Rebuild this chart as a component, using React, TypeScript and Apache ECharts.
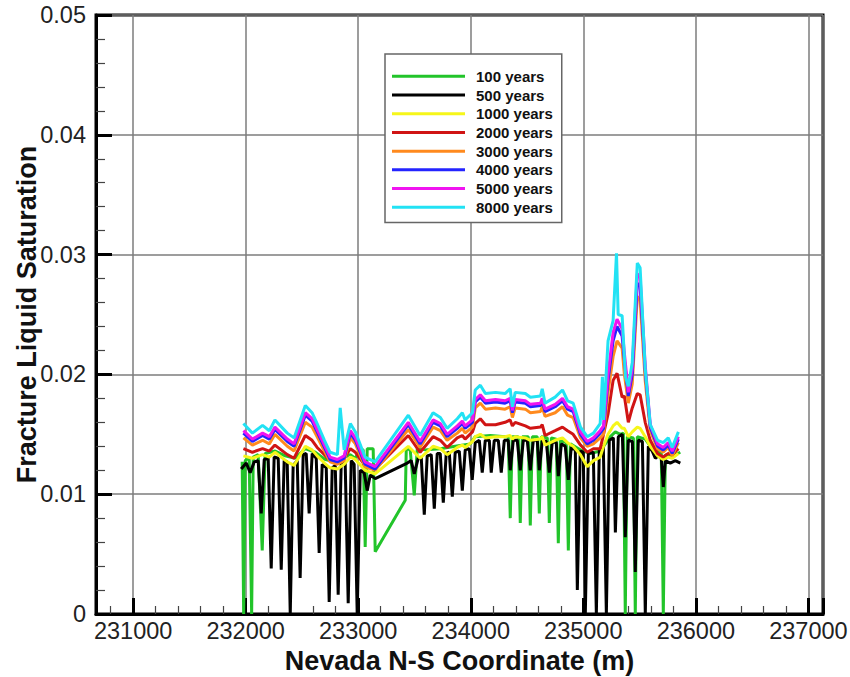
import React, { useEffect, useRef } from 'react';
import * as echarts from 'echarts';

const seriesNames = ['100 years', '500 years', '1000 years', '2000 years', '3000 years', '4000 years', '5000 years', '8000 years'];
const seriesColors = ['#22c42a', '#000000', '#f6f61a', '#d01414', '#ff8a1e', '#2424ff', '#f014f0', '#22e2f4'];

const xLabelValues = [231000, 232000, 233000, 234000, 235000, 236000, 237000];

// 100 years
const xGreen = [231969, 231982, 231996, 232031, 232053, 232067, 232111, 232147, 232173, 232262, 232351, 232440, 232529, 232618, 232707, 232796, 232884, 232929, 232973, 233018, 233044, 233062, 233080, 233116, 233133, 233151, 233418, 233427, 233462, 233498, 233525, 233596, 233729, 233862, 233996, 234040, 234173, 234307, 234333, 234351, 234369, 234422, 234440, 234458, 234511, 234529, 234547, 234591, 234609, 234627, 234680, 234698, 234716, 234760, 234778, 234796, 234849, 234867, 234885, 234973, 235062, 235151, 235240, 235285, 235329, 235356, 235373, 235391, 235445, 235462, 235480, 235551, 235596, 235658, 235693, 235711, 235729, 235773, 235818, 235862];
const yGreen = [0.0127, 0, 0.0128, 0.0131, 0, 0.0131, 0.0133, 0.0053, 0.0134, 0.0136, 0.0132, 0.0130, 0.0138, 0.0135, 0.0129, 0.0127, 0.0131, 0.0133, 0.0130, 0.0137, 0.0137, 0.0056, 0.0138, 0.0138, 0.0138, 0.0052, 0.0095, 0.0138, 0.0137, 0.0099, 0.0138, 0.0137, 0.0138, 0.0140, 0.0142, 0.0148, 0.0149, 0.0148, 0.0148, 0.0080, 0.0148, 0.0148, 0.0076, 0.0148, 0.0148, 0.0074, 0.0148, 0.0148, 0.0084, 0.0148, 0.0147, 0.0076, 0.0147, 0.0146, 0.0059, 0.0145, 0.0143, 0.0053, 0.0142, 0.0137, 0.0134, 0.0136, 0.0148, 0.0152, 0.0150, 0.0151, 0, 0.0148, 0.0147, 0, 0.0148, 0.0146, 0.0140, 0.0136, 0.0134, 0, 0.0133, 0.0131, 0.0133, 0.0135];

// 500 years
const xBlack = [231960, 232005, 232040, 232076, 232111, 232138, 232165, 232200, 232227, 232253, 232289, 232316, 232342, 232369, 232396, 232422, 232458, 232484, 232511, 232538, 232564, 232591, 232627, 232653, 232680, 232716, 232742, 232769, 232796, 232822, 232849, 232884, 232911, 232938, 232964, 232991, 233018, 233053, 233080, 233107, 233151, 233436, 233471, 233498, 233533, 233560, 233587, 233613, 233649, 233676, 233702, 233729, 233756, 233782, 233809, 233836, 233862, 233898, 233925, 233951, 233987, 234013, 234040, 234076, 234102, 234129, 234165, 234182, 234209, 234245, 234271, 234298, 234333, 234351, 234378, 234413, 234440, 234467, 234502, 234529, 234556, 234591, 234609, 234636, 234671, 234698, 234725, 234760, 234778, 234805, 234840, 234867, 234893, 234929, 234947, 234973, 235000, 235018, 235045, 235089, 235116, 235142, 235178, 235205, 235231, 235267, 235285, 235311, 235347, 235373, 235400, 235436, 235462, 235489, 235525, 235551, 235578, 235613, 235640, 235667, 235693, 235711, 235729, 235773, 235818, 235862];
const yBlack = [0.0121, 0.0126, 0.0118, 0.0127, 0.0128, 0.0084, 0.0129, 0.0130, 0.0038, 0.0131, 0.0130, 0.0037, 0.0128, 0.0127, 0, 0.0124, 0.0128, 0.0030, 0.0133, 0.0134, 0.0084, 0.0134, 0.0130, 0.0051, 0.0125, 0.0122, 0.0010, 0.0122, 0.0124, 0.0016, 0.0126, 0.0127, 0.0009, 0.0128, 0.0125, 0, 0.0120, 0.0118, 0.0103, 0.0116, 0.0113, 0.0126, 0.0128, 0.0117, 0.0130, 0.0131, 0.0083, 0.0132, 0.0133, 0.0088, 0.0134, 0.0134, 0.0093, 0.0134, 0.0135, 0.0098, 0.0135, 0.0136, 0.0103, 0.0137, 0.0138, 0.0112, 0.0143, 0.0145, 0.0118, 0.0145, 0.0145, 0.0118, 0.0145, 0.0145, 0.0118, 0.0145, 0.0145, 0.0120, 0.0145, 0.0145, 0.0120, 0.0145, 0.0145, 0.0120, 0.0145, 0.0145, 0.0120, 0.0145, 0.0144, 0.0118, 0.0144, 0.0143, 0.0115, 0.0142, 0.0140, 0.0112, 0.0139, 0.0137, 0.0020, 0.0136, 0.0135, 0, 0.0134, 0.0135, 0, 0.0136, 0.0140, 0, 0.0145, 0.0147, 0.0068, 0.0148, 0.0150, 0.0064, 0.0145, 0.0144, 0.0035, 0.0145, 0.0144, 0, 0.0140, 0.0136, 0.0130, 0.0132, 0.0130, 0.0106, 0.0128, 0.0126, 0.0128, 0.0126];

// shared coordinates for 1000-5000 years
const xGrid = [231980, 232060, 232150, 232210, 232260, 232370, 232430, 232530, 232590, 232635, 232700, 232750, 232815, 232875, 232930, 232975, 233060, 233150, 233445, 233550, 233665, 233730, 233790, 233880, 233925, 233950, 234015, 234040, 234085, 234130, 234220, 234305, 234350, 234370, 234395, 234485, 234530, 234620, 234635, 234660, 234750, 234815, 234860, 234910, 234975, 235035, 235090, 235150, 235180, 235220, 235265, 235300, 235345, 235365, 235400, 235435, 235480, 235505, 235550, 235595, 235660, 235710, 235755, 235790, 235845];
const yYellow = [0.0132, 0.0130, 0.0133, 0.0131, 0.0135, 0.0127, 0.0124, 0.0140, 0.0137, 0.0132, 0.0126, 0.0122, 0.0121, 0.0125, 0.0131, 0.0129, 0.0120, 0.0117, 0.0140, 0.0130, 0.0140, 0.0138, 0.0133, 0.0139, 0.0141, 0.0139, 0.0144, 0.0148, 0.0150, 0.0147, 0.0148, 0.0148, 0.0149, 0.0146, 0.0148, 0.0147, 0.0145, 0.0146, 0.0148, 0.0141, 0.0145, 0.0147, 0.0143, 0.0140, 0.0133, 0.0123, 0.0128, 0.0131, 0.0140, 0.0150, 0.0157, 0.0160, 0.0155, 0.0155, 0.0148, 0.0152, 0.0156, 0.0155, 0.0148, 0.0140, 0.0132, 0.0129, 0.0131, 0.0130, 0.0134];
const yRed = [0.0138, 0.0135, 0.0138, 0.0136, 0.0141, 0.0133, 0.0130, 0.0149, 0.0145, 0.0139, 0.0133, 0.0128, 0.0127, 0.0130, 0.0138, 0.0135, 0.0124, 0.0121, 0.0149, 0.0135, 0.0148, 0.0145, 0.0139, 0.0147, 0.0149, 0.0146, 0.0152, 0.0159, 0.0163, 0.0158, 0.0158, 0.0160, 0.0162, 0.0157, 0.0160, 0.0157, 0.0155, 0.0156, 0.0158, 0.0149, 0.0153, 0.0156, 0.0153, 0.0150, 0.0141, 0.0135, 0.0138, 0.0138, 0.0150, 0.0167, 0.0195, 0.0201, 0.0181, 0.0182, 0.0160, 0.0172, 0.0184, 0.0183, 0.0160, 0.0145, 0.0134, 0.0131, 0.0134, 0.0133, 0.0138];
const yOrange = [0.0147, 0.0141, 0.0145, 0.0142, 0.0150, 0.0140, 0.0136, 0.0160, 0.0156, 0.0148, 0.0136, 0.0127, 0.0125, 0.0128, 0.0147, 0.0142, 0.0123, 0.0120, 0.0154, 0.0139, 0.0156, 0.0153, 0.0145, 0.0151, 0.0155, 0.0151, 0.0156, 0.0172, 0.0176, 0.0171, 0.0172, 0.0171, 0.0173, 0.0164, 0.0172, 0.0171, 0.0168, 0.0169, 0.0173, 0.0165, 0.0168, 0.0173, 0.0166, 0.0164, 0.0147, 0.0140, 0.0142, 0.0147, 0.0150, 0.0185, 0.0215, 0.0228, 0.0222, 0.0200, 0.0176, 0.0192, 0.0265, 0.0262, 0.0195, 0.0153, 0.0138, 0.0135, 0.0139, 0.0132, 0.0143];
const yBlue = [0.0151, 0.0144, 0.0149, 0.0146, 0.0154, 0.0144, 0.0140, 0.0166, 0.0161, 0.0152, 0.0139, 0.0129, 0.0127, 0.0130, 0.0151, 0.0145, 0.0125, 0.0121, 0.0158, 0.0142, 0.0160, 0.0157, 0.0148, 0.0155, 0.0159, 0.0155, 0.0160, 0.0177, 0.0181, 0.0176, 0.0177, 0.0176, 0.0178, 0.0168, 0.0177, 0.0176, 0.0173, 0.0174, 0.0178, 0.0169, 0.0173, 0.0178, 0.0171, 0.0169, 0.0150, 0.0142, 0.0145, 0.0151, 0.0155, 0.0195, 0.0228, 0.0240, 0.0232, 0.0212, 0.0182, 0.0200, 0.0276, 0.0274, 0.0203, 0.0156, 0.0140, 0.0137, 0.0141, 0.0134, 0.0146];
const yMagenta = [0.0153, 0.0146, 0.0151, 0.0148, 0.0156, 0.0146, 0.0142, 0.0168, 0.0163, 0.0154, 0.0141, 0.0131, 0.0129, 0.0132, 0.0153, 0.0147, 0.0127, 0.0123, 0.0160, 0.0144, 0.0162, 0.0159, 0.0150, 0.0157, 0.0161, 0.0157, 0.0162, 0.0179, 0.0183, 0.0178, 0.0179, 0.0178, 0.0180, 0.0170, 0.0179, 0.0178, 0.0175, 0.0176, 0.0180, 0.0171, 0.0175, 0.0180, 0.0173, 0.0171, 0.0152, 0.0144, 0.0147, 0.0153, 0.0157, 0.0200, 0.0235, 0.0246, 0.0238, 0.0218, 0.0185, 0.0205, 0.0284, 0.0281, 0.0208, 0.0158, 0.0142, 0.0139, 0.0143, 0.0136, 0.0148];

// 8000 years
const xCyan = [231980, 232060, 232150, 232210, 232260, 232370, 232430, 232530, 232590, 232635, 232700, 232750, 232815, 232840, 232875, 232930, 232975, 233060, 233150, 233445, 233550, 233665, 233730, 233790, 233880, 233925, 233950, 234015, 234040, 234085, 234130, 234220, 234305, 234350, 234370, 234395, 234485, 234530, 234620, 234635, 234660, 234750, 234815, 234860, 234910, 234975, 235035, 235090, 235150, 235170, 235180, 235220, 235265, 235295, 235310, 235345, 235375, 235400, 235435, 235480, 235505, 235550, 235595, 235660, 235710, 235755, 235790, 235845];
const yCyan = [0.0159, 0.0151, 0.01575, 0.0153, 0.0162, 0.0151, 0.0147, 0.0174, 0.0168, 0.0159, 0.0145, 0.0135, 0.0133, 0.0172, 0.0137, 0.0159, 0.0152, 0.0131, 0.0127, 0.0166, 0.0149, 0.0168, 0.0164, 0.0155, 0.0163, 0.0168, 0.0162, 0.0168, 0.0187, 0.0191, 0.0184, 0.0185, 0.0184, 0.0188, 0.0173, 0.0185, 0.0184, 0.0181, 0.0182, 0.0188, 0.0176, 0.0181, 0.0187, 0.0178, 0.0176, 0.0156, 0.0148, 0.0151, 0.0159, 0.0198, 0.0162, 0.0228, 0.0245, 0.0301, 0.0250, 0.0249, 0.0198, 0.0190, 0.0210, 0.0293, 0.0289, 0.0205, 0.0158, 0.0145, 0.0143, 0.0147, 0.0139, 0.0152];

const zip = (xs: number[], ys: number[]) => {
  const n = Math.min(xs.length, ys.length);
  const out: number[][] = [];
  for (let i = 0; i < n; i++) out.push([xs[i], ys[i]]);
  return out;
};

const seriesData = [
  zip(xGreen, yGreen),
  zip(xBlack, yBlack),
  zip(xGrid, yYellow),
  zip(xGrid, yRed),
  zip(xGrid, yOrange),
  zip(xGrid, yBlue),
  zip(xGrid, yMagenta),
  zip(xCyan, yCyan),
];

const FONT = '"Liberation Sans", Arial, Helvetica, sans-serif';

export default function App() {
  const ref = useRef<HTMLDivElement>(null);
  useEffect(() => {
    if (!ref.current) return;
    const chart = echarts.init(ref.current, undefined, { renderer: 'svg' });
    const option: any = {
      animation: false,
      backgroundColor: '#ffffff',
      grid: {
        left: 96, top: 15, right: 27, bottom: 63,
        outerBoundsMode: 'none',
        containLabel: false,
        show: true, borderColor: '#000', borderWidth: 3, backgroundColor: 'transparent',
      },
      legend: {
        orient: 'vertical',
        left: 385,
        top: 54,
        data: seriesNames,
        icon: 'rect',
        itemWidth: 73,
        itemHeight: 3,
        itemGap: 0,
        padding: [13, 9, 6, 7],
        backgroundColor: '#ffffff',
        borderColor: '#666',
        borderWidth: 1.5,
        selectedMode: false,
        textStyle: {
          fontFamily: FONT, fontSize: 15, fontWeight: 'bold', color: '#111',
          lineHeight: 18.7, padding: [0, 0, 0, 6],
        },
      },
      xAxis: {
        type: 'value',
        min: 230670,
        max: 237130,
        splitNumber: 5,
        name: 'Nevada N-S Coordinate (m)',
        nameLocation: 'middle',
        nameGap: 33,
        nameMoveOverlap: false,
        nameTextStyle: { fontFamily: FONT, fontSize: 27, fontWeight: 'bold', color: '#111' },
        axisLine: { show: true, lineStyle: { color: '#000', width: 3 } },
        axisTick: { show: true, inside: true, length: 16, lineStyle: { color: '#000', width: 3 } },
        minorTick: { show: true, splitNumber: 5, length: 8, lineStyle: { color: '#444', width: 1.2 } },
        splitLine: { show: true, lineStyle: { color: '#7c7c7c', width: 1.5 } },
        axisLabel: {
          fontFamily: FONT, fontSize: 23.5, color: '#222', margin: 5,
          formatter: (v: number) => (xLabelValues.indexOf(Math.round(v)) >= 0 ? String(Math.round(v)) : ''),
        },
      },
      yAxis: {
        type: 'value',
        min: 0,
        max: 0.05,
        interval: 0.01,
        name: 'Fracture Liquid Saturation',
        nameLocation: 'middle',
        nameGap: 56,
        nameMoveOverlap: false,
        nameTextStyle: { fontFamily: FONT, fontSize: 27, fontWeight: 'bold', color: '#111' },
        axisLine: { show: true, lineStyle: { color: '#000', width: 3 } },
        axisTick: { show: true, inside: true, length: 16, lineStyle: { color: '#000', width: 3 } },
        minorTick: { show: true, splitNumber: 5, length: 9, lineStyle: { color: '#444', width: 1.2 } },
        splitLine: { show: true, lineStyle: { color: '#7c7c7c', width: 1.5 } },
        axisLabel: {
          fontFamily: FONT, fontSize: 23.5, color: '#222', margin: 10,
          formatter: (v: number) => (v === 0 ? '0' : v.toFixed(2)),
        },
      },
      series: seriesNames.map((name, i) => ({
        name,
        type: 'line',
        data: seriesData[i],
        symbol: 'none',
        showSymbol: false,
        clip: true,
        color: seriesColors[i],
        lineStyle: { color: seriesColors[i], width: 3 },
        itemStyle: { color: seriesColors[i] },
      })),
    };
    chart.setOption(option);
    return () => chart.dispose();
  }, []);
  return (
    <div
      ref={ref}
      style={{ position: 'fixed', left: 0, top: 0, width: 850, height: 677, background: '#fff' }}
    />
  );
}
